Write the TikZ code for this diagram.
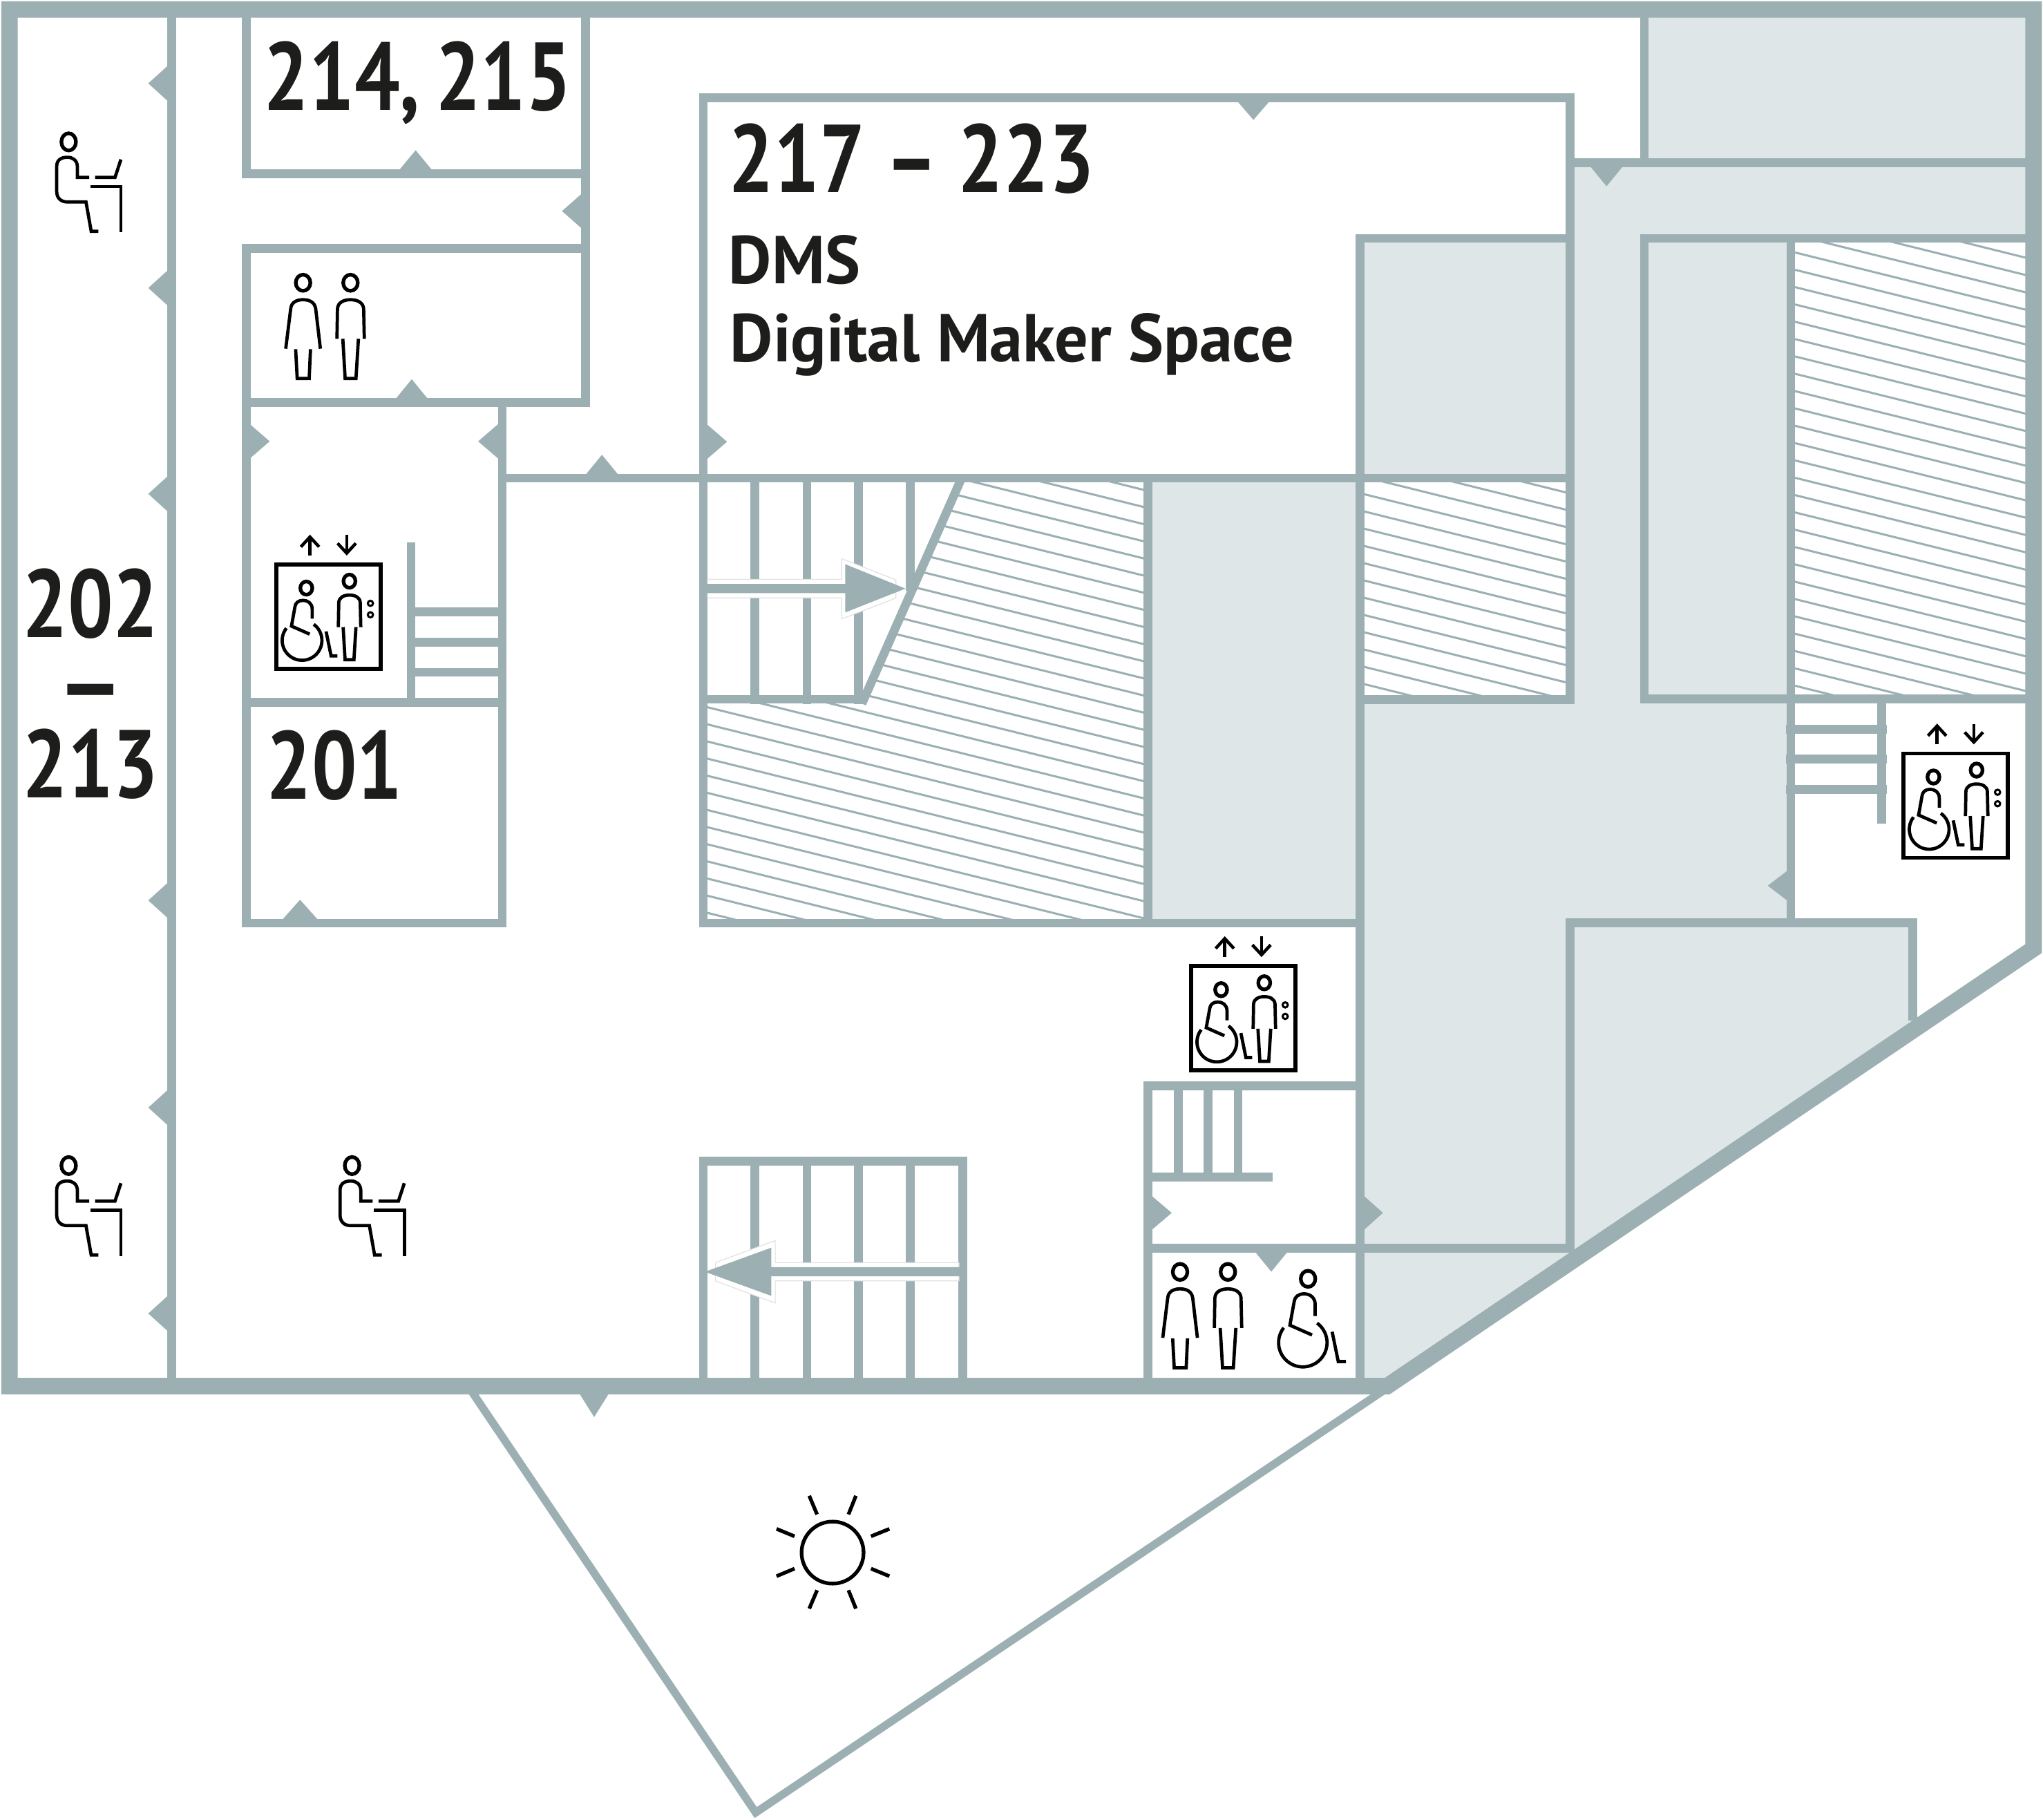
\documentclass[tikz,border=0pt]{standalone}
\usepackage{fontspec}
\usetikzlibrary{arrows.meta}
\setmainfont{PT Sans}
\newfontfamily\numfont[FakeStretch=0.83]{PT Sans Bold}
\newfontfamily\wordfont[FakeStretch=0.98]{PT Sans Bold}
\definecolor{wallc}{HTML}{9CB0B3}
\definecolor{lightc}{HTML}{DEE6E8}
\definecolor{inkc}{HTML}{1D1D1B}
\newcommand{\numsetup}{\numfont\fontsize{37pt}{37pt}\selectfont}
\newcommand{\stacksetup}{\numfont\fontsize{37pt}{30.75pt}\selectfont}
\newcommand{\wordsetup}{\wordfont\fontsize{26pt}{26pt}\selectfont}
\newcommand{\tightsp}[1]{\begingroup\spaceskip=0.16em\relax #1\endgroup}
\tikzset{
  wall/.style={draw=wallc,line width=3.35pt,line cap=rect,miter limit=10},
  outerwall/.style={draw=wallc,line width=6.35pt,line join=miter,miter limit=10},
  thinwall/.style={draw=wallc,line width=3.05pt,line join=miter,miter limit=20},
  hatchline/.style={draw=wallc,line width=0.8pt},
  icon/.style={draw=black,line width=1.25pt,line join=miter},
  headring/.style={draw=black,line width=1.4pt},
  roomlarge/.style={inner sep=0pt,anchor=base west,text=inkc,font=\numsetup},
  roomstack/.style={inner sep=0pt,anchor=base,align=center,text=inkc,font=\stacksetup},
  roomsmall/.style={inner sep=0pt,anchor=base west,text=inkc,font=\wordsetup},
  pics/woman/.style={code={
    \draw[headring] (0,0) ellipse [x radius=5.6,y radius=6.2];
    \draw[icon] (-13.3,50.6) -- (-9.5,20) .. controls (-9,15) and (-5,13) .. (0,13) .. controls (5,13) and (9,15) .. (9.7,20) -- (13.3,50.6);
    \draw[icon] (-5.7,51) -- (-4.5,73.5) -- (4.7,73.5) -- (5.7,51);
  }},
  pics/man/.style={code={
    \draw[headring] (0,0) ellipse [x radius=5.6,y radius=6.2];
    \draw[icon] (-10.4,43) -- (-10,20) .. controls (-9.7,15) and (-5,13) .. (0,13) .. controls (5,13) and (9.8,15) .. (10.1,20) -- (10.6,43);
    \draw[icon] (-5.9,43) -- (-4.1,73.5) -- (4.2,73.5) -- (6.1,43);
  }},
  pics/wheel/.style={code={
    \draw[headring] (0,0) ellipse [x radius=5.6,y radius=6.2];
    \draw[icon] (5.5,28.6) -- (5.5,19.8) .. controls (5.5,14) and (1,11.5) .. (-3,11.5) .. controls (-7.5,11.5) and (-10.2,14) .. (-10.6,17.3) -- (-13.9,35.6) -- (3.1,43.1);
    \draw[icon,domain=142:414,samples=40] plot ({-4+18.6*cos(\x)},{49-18.6*sin(\x)});
    \draw[icon] (18.5,40.6) -- (23.2,63.5) -- (29.1,63.5);
  }},
  pics/seated/.style={code={
    \draw[headring] (0,0) ellipse [x radius=5.6,y radius=6.6];
    \draw[icon] (15.8,27.2) -- (6.7,27.2) -- (6.7,18.9) .. controls (6.5,14) and (3,11.8) .. (-1,11.8) .. controls (-6,11.8) and (-9.2,14) .. (-9.2,18.9) -- (-9.2,37.9) .. controls (-9.2,43) and (-6,46.1) .. (-1,46.1) -- (13.3,46.1) -- (17.3,68.6) -- (22.8,68.6);
    \draw[icon] (20.3,27.2) -- (35.6,27.2) -- (40.1,13.5);
    \draw[icon] (16.7,34.3) -- (40.1,34.3) -- (40.1,69.3);
  }},
  pics/lift/.style={code={
    \draw[draw=black,line width=1.45pt] (1.4,1.4) rectangle (81.4,81.4);
    \draw[draw=black,line width=1.2pt,-{Straight Barb[length=3.8pt,width=7pt,line width=1.2pt]}] (27.2,-5.5) -- (27.2,-21.5);
    \draw[draw=black,line width=1.2pt,-{Straight Barb[length=3.8pt,width=7pt,line width=1.2pt]}] (55.4,-21.3) -- (55.4,-5.5);
    \pic[scale=0.82,transform shape] at (57.5,14.2) {man};
    \pic[scale=0.82,transform shape] at (24.4,19.5) {wheel};
    \draw[icon,line width=0.8pt] (73.6,31.2) circle [radius=2];
    \draw[icon,line width=0.8pt] (73.6,40) circle [radius=2];
  }}
}
\newcommand{\doorV}[3]{\fill[wallc] (#1,#3-14.7) -- (#2,#3) -- (#1,#3+14.7) -- cycle;}
\newcommand{\doorH}[3]{\fill[wallc] (#1-14.7,#2) -- (#1,#3) -- (#1+14.7,#2) -- cycle;}
\newcommand{\hatchlines}[2]{\foreach \k in {-70,...,70} {\draw[hatchline] (500,{#1+\k*#2+0.248*500}) -- (1600,{#1+\k*#2+0.248*1600});}}
\begin{document}
\begin{tikzpicture}[x=0.5pt,y=-0.5pt]
\useasboundingbox (0,0) rectangle (1568,1396.2);
\fill[white] (0,0) rectangle (1568,1396.2);
% light areas
\fill[lightc] (1262,13) rectangle (1555,125);
\fill[lightc] (1205,125) -- (1555,125) -- (1555,183) -- (1262,183) -- (1262,537) -- (1375,537) -- (1375,708) -- (1468,708) -- (1468,783) -- (1062,1057.5) -- (1044,1057.5) -- (1044,537) -- (1205,537) -- cycle;
\fill[lightc] (1262,183) rectangle (1375,537);
\fill[lightc] (1043,183) rectangle (1205,367);
\fill[lightc] (881,367) rectangle (1043,708);
% hatches
\begin{scope}
\clip (540,537) -- (661,537) -- (738,367) -- (881,367) -- (881,708) -- (540,708) -- cycle;
\hatchlines{408.1}{13.15}
\end{scope}
\begin{scope}
\clip (1044,367) rectangle (1205,537);
\hatchlines{119.6}{13.25}
\end{scope}
\begin{scope}
\clip (1375,183) rectangle (1556,537);
\hatchlines{171.3}{13.3}
\end{scope}
% balcony
\draw[thinwall] (360.8,1066) -- (580,1391) -- (1062,1067);
% walls
\draw[outerwall] (7.3,7.3) -- (1560.7,7.3) -- (1560.7,728) -- (1064.5,1063.8) -- (7.3,1063.8) -- cycle;
\draw[wall] (131.8,7) -- (131.8,1063);
\draw[wall] (189,10) -- (189,133.3) -- (449.5,133.3);
\draw[wall] (449.5,10) -- (449.5,309) -- (189,309);
\draw[wall] (189,190.8) -- (449.5,190.8);
\draw[wall] (189,190.8) -- (189,708.5) -- (385.5,708.5) -- (385.5,309);
\draw[wall] (189,539) -- (385.5,539);
\draw[wall] (315.5,419.5) -- (315.5,539);
\draw[wall] (315.5,469.6) -- (385.5,469.6);
\draw[wall] (315.5,493) -- (385.5,493);
\draw[wall] (315.5,516) -- (385.5,516);
\draw[wall] (385.5,367) -- (1205,367);
\draw[wall] (539.8,367) -- (539.8,75) -- (1205,75) -- (1205,537) -- (1043.9,537);
\draw[wall] (1043.9,183) -- (1205,183);
\draw[wall] (1043.9,183) -- (1043.9,1063);
\draw[wall] (539.8,367) -- (539.8,708.5) -- (1043.9,708.5);
\draw[wall] (881,367) -- (881,708.5);
\draw[wall] (579.4,367) -- (579.4,537);
\draw[wall] (619.3,367) -- (619.3,537);
\draw[wall] (659,367) -- (659,537);
\draw[wall] (698.7,367) -- (698.7,450);
\draw[wall] (539.8,536.7) -- (659,536.7);
\draw[wall,line cap=butt] (661.5,540) -- (738,367);
\draw[wall] (1205,125) -- (1556,125);
\draw[wall] (1262,10) -- (1262,125);
\draw[wall] (1556,183) -- (1262,183) -- (1262,536.4) -- (1556,536.4);
\draw[wall] (1374.5,183) -- (1374.5,708.3);
\draw[wall] (1205,958) -- (1205,708.3) -- (1468,708.3) -- (1468,780);
\draw[wall] (1444.3,536.4) -- (1444.3,628.5);
\draw[wall,line width=3.6pt] (1374.5,559.8) -- (1444.3,559.8);
\draw[wall,line width=3.6pt] (1374.5,582.6) -- (1444.3,582.6);
\draw[wall,line width=3.6pt] (1374.5,605.8) -- (1444.3,605.8);
% south core
\draw[wall] (881,1063) -- (881,833.3) -- (1043.9,833.3);
\draw[wall] (904.3,833.3) -- (904.3,903.2);
\draw[wall] (927.3,833.3) -- (927.3,903.2);
\draw[wall] (950.3,833.3) -- (950.3,903.2);
\draw[wall] (881,903.2) -- (973.5,903.2);
\draw[wall] (881,958) -- (1205,958);
% south stairs
\draw[wall] (539.8,1063) -- (539.8,891) -- (739,891) -- (739,1063);
\draw[wall] (579.4,891) -- (579.4,1063);
\draw[wall] (619.3,891) -- (619.3,1063);
\draw[wall] (659,891) -- (659,1063);
\draw[wall] (698.7,891) -- (698.7,1063);
% stair arrows
\fill[white,draw=black!12,line width=0.3pt] (543,444.6) -- (646,444.6) -- (646,428.7) -- (687.6,445) -- (687.6,459) -- (646,475) -- (646,458.8) -- (543,458.8) -- cycle;
\fill[wallc] (542,448.2) -- (648.7,448.2) -- (648.7,433) -- (695,451.7) -- (648.7,470) -- (648.7,455.2) -- (542,455.2) -- cycle;
\fill[white,draw=black!12,line width=0.3pt] (736,969) -- (595,969) -- (595,952) -- (549,969) -- (549,983) -- (595,1000) -- (595,983) -- (736,983) -- cycle;
\fill[wallc] (737,972.5) -- (592,972.5) -- (592,957.5) -- (541,976) -- (592,994.5) -- (592,979.5) -- (737,979.5) -- cycle;
% doors
\doorV{130}{113.8}{64} \doorV{130}{113.8}{221} \doorV{130}{113.8}{379}
\doorV{130}{113.8}{691} \doorV{130}{113.8}{850} \doorV{130}{113.8}{1008}
\doorH{319}{133}{115.3} \doorV{448}{431.3}{162} \doorH{316}{309}{291}
\doorV{190}{207}{338.7} \doorV{384}{367}{338.7} \doorH{462}{367}{349}
\doorH{962}{75}{92} \doorV{541}{558}{339} \doorH{1233}{125}{143}
\doorH{230.3}{707}{690.5} \doorV{1376}{1356.7}{679.7}
\doorV{882}{899.3}{930.8} \doorV{1045}{1061.4}{930.8}
\doorH{975.7}{958}{975.9} \doorH{456}{1064}{1087.5}
% icons
\pic at (52.7,108.9) {seated};
\pic at (52.7,894.5) {seated};
\pic at (270.2,894.5) {seated};
\pic at (232.6,217) {woman};
\pic at (269,217) {man};
\pic at (905.7,976.1) {woman};
\pic at (942.4,976.1) {man};
\pic at (1003.9,981.4) {wheel};
\pic at (210.7,431.8) {lift};
\pic at (912.8,740) {lift};
\pic at (1459.5,576.8) {lift};
% sun
\draw[icon,line width=1.4pt] (639,1191.5) circle [radius=23.8];
\foreach \ax/\ay/\bx/\by in {621.1/1147.9/627.1/1162.2,656.9/1147.9/651.2/1162.2,682.6/1173.3/668.5/1179,682.6/1209.6/668.5/1203.8,656.9/1234.5/651.2/1220.4,621.1/1234.5/627.1/1220.4,596/1209.6/609.8/1203.8,596/1173.3/609.8/1179}
  \draw[icon,line width=1.4pt] (\ax,\ay) -- (\bx,\by);
% labels
\node[roomlarge] (r214) at (202,84.5) {\tightsp{214, 215}};
\node[roomlarge] (r217) at (559,147.6) {217 – 223};
\node[roomsmall] (rdms) at (559,217.7) {DMS};
\node[roomsmall] (rdigital) at (560,277.5) {Digital Maker Space};
\node[roomstack] (r202) at (69.5,612) {202\\\scalebox{1.3}[1]{–}\\213};
\node[roomlarge] (r201) at (204,613.3) {201};
\end{tikzpicture}
\end{document}
